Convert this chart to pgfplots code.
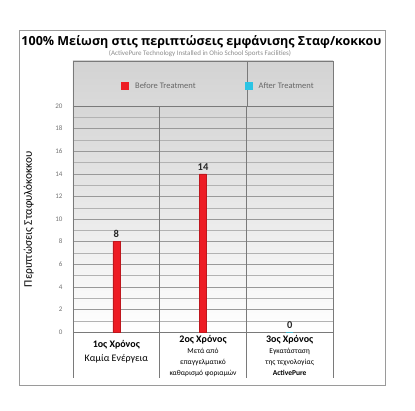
\documentclass[border=0pt]{standalone}
\usepackage{fontspec}
\setmainfont{Carlito}
\newfontfamily\titlefont{Open Sans}
\usepackage{pgfplots}
\pgfplotsset{compat=1.18}
\definecolor{barred}{HTML}{ED1C24}
\definecolor{aftercyan}{HTML}{2BC4E4}
\definecolor{framegray}{HTML}{9A9A9A}
\definecolor{linegray}{HTML}{7A7A7A}
\definecolor{headgray}{HTML}{D3D3D3}

\begin{document}
\begin{tikzpicture}[x=1pt,y=1pt]
\path[use as bounding box] (-73,-78) rectangle (342,332);
\fill[white] (-73,-78) rectangle (342,332);
% outer frame
\draw[framegray, line width=0.9pt] (-54,-53) rectangle (312,302);
% header box
\draw[linegray, top color=headgray, bottom color=headgray!85] (0,226) rectangle (260,271);
\draw[linegray] (174,226) -- (174,271);
\node[font=\titlefont\bfseries\fontsize{12.5}{14}\selectfont] at (128.5,290) {100\% Μείωση στις περιπτώσεις εμφάνισης Σταφ/κοκκου};
\node[font=\fontsize{7}{8}\selectfont, text=black!45] at (127,278) {(ActivePure Technology Installed in Ohio School Sports Facilities)};

\begin{axis}[
    at={(0,0)}, anchor=south west,
    scale only axis,
    width=260pt, height=226pt,
    xmin=0.5, xmax=3.5,
    ymin=0, ymax=20,
    ybar, bar width=7pt, bar shift=0pt,
    clip=false,
    /pgf/number format/assume math mode=true,
    axis background/.style={top color=black!16, bottom color=white},
    axis line style={linegray},
    xtick={1,2,3},
    xticklabels={
        {\rule{0pt}{12pt}{\bfseries\fontsize{10}{11}\selectfont 1ος Χρόνος}\\[2pt]{\fontsize{10}{11}\selectfont Καμία Ενέργεια}},
        {{\bfseries\fontsize{10}{11}\selectfont 2ος Χρόνος}\\[-1pt]{\fontsize{7.5}{8}\selectfont Μετά από}\\[-1pt]{\fontsize{7.5}{8}\selectfont επαγγελματικό}\\[-1pt]{\fontsize{7.5}{8}\selectfont καθαρισμό φοριαμών}},
        {{\bfseries\fontsize{10}{11}\selectfont 3ος Χρόνος}\\[-1pt]{\fontsize{7.5}{8}\selectfont Εγκατάσταση}\\[-1pt]{\fontsize{7.5}{8}\selectfont της τεχνολογίας}\\[-1pt]{\bfseries\fontsize{7.5}{8}\selectfont ActivePure}}
    },
    xticklabel style={align=center, anchor=north, yshift=0pt},
    ytick={0,2,...,20},
    minor ytick={1,3,...,19},
    ymajorgrids, yminorgrids,
    major grid style={black!40},
    minor grid style={black!30},
    major tick length=0pt, minor tick length=0pt,
    yticklabel style={font=\fontsize{7}{8}\selectfont, text=black!55, xshift=-7pt},
    ylabel={Περιπτώσεις Σταφυλόκοκκου},
    ylabel style={at={(axis description cs:-0.17,0.5)}, anchor=center, font=\fontsize{11.5}{13}\selectfont},
    nodes near coords,
    nodes near coords style={font=\bfseries\fontsize{10.5}{11}\selectfont, text=black!85},
    legend columns=2,
    legend style={at={(axis description cs:0.1846,1.089)}, anchor=west, draw=none, fill=none,
        inner sep=0pt, font=\fontsize{8.5}{9}\selectfont, text=black!60,
        /tikz/every even column/.append style={column sep=47pt}},
    legend image code/.code={\fill[#1, draw=none] (0pt,-4pt) rectangle (8pt,4pt);
        \path[draw=none, fill=none] (0pt,0pt) -- (12pt,0pt);},
]
\addplot[fill=barred, draw=barred!80!black] coordinates {(1,8) (2,14)};
\addlegendentry{Before Treatment}
\addplot[fill=aftercyan, draw=aftercyan, line width=1pt] coordinates {(3,0)};
\addlegendentry{After Treatment}
\draw[linegray] (axis cs:1.5,20) -- ([yshift=-46pt]axis cs:1.5,0);
\draw[linegray] (axis cs:2.5,20) -- ([yshift=-46pt]axis cs:2.5,0);
\draw[linegray] (axis cs:0.5,0) -- ([yshift=-46pt]axis cs:0.5,0);
\draw[linegray] (axis cs:3.5,0) -- ([yshift=-46pt]axis cs:3.5,0);
\end{axis}
\end{tikzpicture}
\end{document}
